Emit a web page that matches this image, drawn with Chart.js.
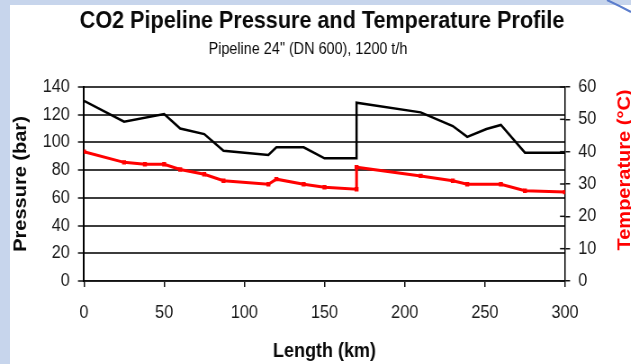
<!DOCTYPE html>
<html lang="en">

<head>
    <meta charset="utf-8">
    <title> CO2 Pipeline Pressure and Temperature Profile </title>
    <script src="https://cdn.jsdelivr.net/npm/chart.js@4.4.0/dist/chart.umd.min.js"></script>
    <style>
        html, body {
            margin: 0;
            padding: 0;
            width: 631px;
            height: 364px;
            overflow: hidden;
            background: #c7d5ec;
        }

        #panel {
            position: absolute;
            left: 10px;
            top: 5px;
            right: 0;
            bottom: 0;
            background: #ffffff;
        }

        #arc {
            position: absolute;
            left: 0;
            top: 0;
        }

        canvas {
            position: absolute;
            left: 0;
            top: 0;
            transform: scaleX(0.9);
            transform-origin: 0 0;
        }
    </style>
</head>

<body>
    <div id="panel"></div>
    <svg id="arc" width="631" height="364">
        <path d="M607 0 Q620 6 631 12" stroke="#5b7dcc" stroke-width="2" fill="none" />
    </svg>
    <canvas id="chart" width="701" height="364"></canvas>

    <script>

        // pressure profile (bar) along the pipeline
        const pressureKm = [0, 25, 50, 60, 75, 87, 115, 120, 137, 150, 170, 170, 210, 230, 239, 251, 260, 275, 300];
        const pressureBar = [130, 115, 120.5, 110, 106, 94, 91, 96.5, 96.5, 88.5, 88.5, 128.6, 121.7, 111.8, 104, 109.7, 112.6, 92.6, 92.6];

        // temperature profile (deg C)
        const tempKm = [0, 25, 38, 50, 60, 75, 87, 115, 120, 137, 150, 170, 170, 210, 230, 239, 260, 275, 300];
        const tempC = [40, 36.7, 36.1, 36.1, 34.5, 33, 31, 29.9, 31.5, 29.9, 29, 28.4, 35.2, 32.5, 31, 29.9, 29.9, 27.9, 27.5];

        const xTicks = [0, 50, 100, 150, 200, 250, 300];
        const pressureTicks = [0, 20, 40, 60, 80, 100, 120, 140];
        const tempTicks = [0, 10, 20, 30, 40, 50, 60];

        const chartTitle = "CO2 Pipeline Pressure and Temperature Profile";
        const chartSubtitle = "Pipeline 24\" (DN 600), 1200 t/h";
        const xTitle = "Length (km)";
        const yTitle = "Pressure (bar)";
        const y1Title = "Temperature (°C)";

        const FONT = "'Liberation Sans', Arial, sans-serif";

        function toPoints(xs, ys) {
            return xs.map((x, i) => ({ x: x, y: ys[i] }));
        }

        // canvas is drawn 701 wide and squeezed to 631 by css
        const W = 701;
        const areaLeft = 93.3;
        const areaRight = 627.8;

        const extras = {
            id: "extras",
            afterDraw(chart) {
                const ctx = chart.ctx;
                const area = chart.chartArea;
                const y1 = chart.scales.y1;

                // inner tick marks on the right axis
                ctx.save();
                ctx.strokeStyle = "#111";
                ctx.lineWidth = 1.5;
                y1.ticks.forEach(t => {
                    const py = y1.getPixelForValue(t.value);
                    ctx.beginPath();
                    ctx.moveTo(area.right - 5.6, py);
                    ctx.lineTo(area.right, py);
                    ctx.stroke();
                });

                ctx.textAlign = "center";
                ctx.textBaseline = "middle";

                ctx.fillStyle = "#0a0a0a";
                ctx.font = "bold 24px " + FONT;
                ctx.fillText(chartTitle, 357.8, 21);

                ctx.font = "16px " + FONT;
                ctx.fillText(chartSubtitle, 342.2, 50);

                ctx.translate(694.4, 170);
                ctx.rotate(-Math.PI / 2);
                ctx.fillStyle = "#ff0000";
                ctx.font = "bold 20px " + FONT;
                ctx.fillText(y1Title, 0, 0);
                ctx.restore();
            }
        };

        const ctx = document.getElementById("chart").getContext("2d");

        new Chart(ctx, {
            type: "line",
            data: {
                datasets: [{
                    label: "Pressure",
                    data: toPoints(pressureKm, pressureBar),
                    yAxisID: "y",
                    borderColor: "#000000",
                    borderWidth: 2.5,
                    pointRadius: 0,
                    tension: 0,
                    fill: false
                }, {
                    label: "Temperature",
                    data: toPoints(tempKm, tempC),
                    yAxisID: "y1",
                    borderColor: "#ff0000",
                    backgroundColor: "#ff0000",
                    borderWidth: 3,
                    pointRadius: 1,
                    pointStyle: "rect",
                    tension: 0,
                    fill: false
                }]
            },
            options: {
                responsive: false,
                animation: false,
                layout: {
                    padding: { top: 87, left: 0, right: 0, bottom: 0 }
                },
                plugins: {
                    legend: { display: false },
                    tooltip: { enabled: false }
                },
                scales: {
                    x: {
                        type: "linear",
                        min: 0,
                        max: 300,
                        afterBuildTicks: s => { s.ticks = xTicks.map(v => ({ value: v })); },
                        afterFit: s => { s.height = 83; },
                        grid: {
                            drawOnChartArea: false,
                            tickLength: 6,
                            color: "#111",
                            lineWidth: 1.5
                        },
                        border: { display: true, color: "#111", width: 1.5 },
                        ticks: {
                            padding: 15,
                            color: "#1a1a1a",
                            font: { family: FONT, size: 18 }
                        },
                        title: {
                            display: true,
                            text: xTitle,
                            color: "#0a0a0a",
                            padding: { top: 0, bottom: 1 },
                            font: { family: FONT, size: 20, weight: "bold" }
                        }
                    },
                    y: {
                        position: "left",
                        min: 0,
                        max: 140,
                        afterBuildTicks: s => { s.ticks = pressureTicks.map(v => ({ value: v })); },
                        afterFit: s => { s.width = areaLeft; },
                        grid: {
                            color: "#3c3c3c",
                            lineWidth: 2,
                            tickLength: 6.7,
                            tickColor: "#111",
                            tickWidth: 1.5
                        },
                        border: { display: true, color: "#000", width: 2 },
                        ticks: {
                            padding: 9,
                            color: "#1a1a1a",
                            font: { family: FONT, size: 18 }
                        },
                        title: {
                            display: true,
                            text: yTitle,
                            color: "#0a0a0a",
                            padding: { top: 11, bottom: 0 },
                            font: { family: FONT, size: 20, weight: "bold" }
                        }
                    },
                    y1: {
                        position: "right",
                        min: 0,
                        max: 60,
                        afterBuildTicks: s => { s.ticks = tempTicks.map(v => ({ value: v })); },
                        afterFit: s => { s.width = W - areaRight; },
                        grid: {
                            drawOnChartArea: false,
                            tickLength: 5.6,
                            color: "#111",
                            lineWidth: 1.5
                        },
                        border: { display: true, color: "#000", width: 1.5 },
                        ticks: {
                            padding: 9,
                            color: "#1a1a1a",
                            font: { family: FONT, size: 18 }
                        }
                    }
                }
            },
            plugins: [extras]
        });
    </script>
</body>

</html>
